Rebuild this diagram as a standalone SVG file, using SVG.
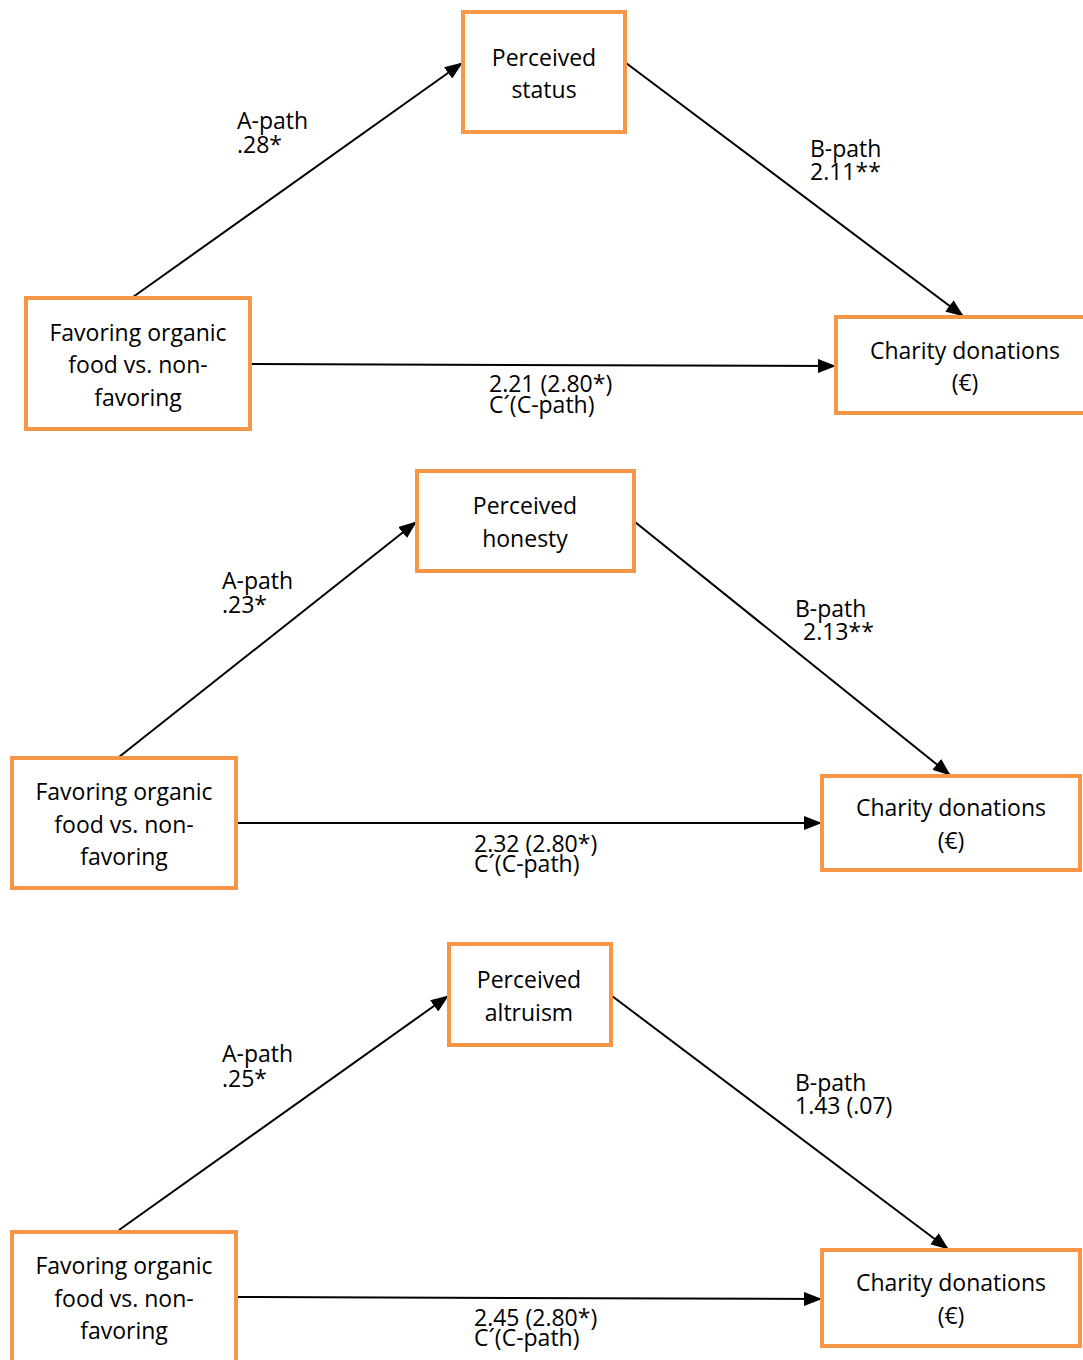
<svg xmlns="http://www.w3.org/2000/svg" width="1083" height="1360" viewBox="0 0 1083 1360">
<style>
.box{fill:#fff;stroke:#F79646;stroke-width:4}
.t{font-family:"Open Sans","Liberation Sans",sans-serif;font-size:23px;fill:#000}
.l{font-size:23px}
.c{text-anchor:middle}
.e{stroke:#000;stroke-width:2;fill:none;marker-end:url(#ah)}
</style>
<defs>
<marker id="ah" markerUnits="userSpaceOnUse" markerWidth="18" markerHeight="14" refX="17" refY="7" orient="auto">
<path d="M0,0 L18,7 L0,14 Z" fill="#000"/>
</marker>
</defs>
<g id="connectors">
<line class="e" x1="133" y1="297" x2="462" y2="63"/>
<line class="e" x1="626" y1="63" x2="963" y2="316"/>
<line class="e" x1="251" y1="364" x2="835" y2="366"/>
<line class="e" x1="119" y1="757" x2="416" y2="522"/>
<line class="e" x1="635" y1="522" x2="950" y2="775"/>
<line class="e" x1="237" y1="823" x2="821" y2="823"/>
<line class="e" x1="119" y1="1230" x2="448" y2="996"/>
<line class="e" x1="612" y1="996" x2="948" y2="1249"/>
<line class="e" x1="237" y1="1297" x2="821" y2="1299"/>
</g>
<g id="labels" class="t l">
<text x="237" y="129">A-path</text><text x="237" y="153">.28*</text>
<text x="810" y="157">B-path</text><text x="810" y="180">2.11**</text>
<text x="489" y="392">2.21 (2.80*)</text><text x="489" y="413">C´(C-path)</text>
<text x="222" y="589">A-path</text><text x="222" y="613">.23*</text>
<text x="795" y="617">B-path</text><text x="803" y="640">2.13**</text>
<text x="474" y="852">2.32 (2.80*)</text><text x="474" y="872">C´(C-path)</text>
<text x="222" y="1062">A-path</text><text x="222" y="1087">.25*</text>
<text x="795" y="1091">B-path</text><text x="795" y="1114">1.43 (.07)</text>
<text x="474" y="1326">2.45 (2.80*)</text><text x="474" y="1346">C´(C-path)</text>
</g>
<g id="status1"><rect class="box" x="463" y="12" width="162" height="120"/>
<text class="t c" x="544" y="66">Perceived</text><text class="t c" x="544" y="98">status</text></g>
<g id="favoring1"><rect class="box" x="26" y="298" width="224" height="131"/>
<text class="t c" x="138" y="341">Favoring organic</text><text class="t c" x="138" y="373">food vs. non-</text><text class="t c" x="138" y="406">favoring</text></g>
<g id="charity1"><rect class="box" x="836" y="317" width="260" height="96"/>
<text class="t c" x="965" y="359">Charity donations</text><text class="t c" x="965" y="391">(€)</text></g>
<g id="honesty2"><rect class="box" x="417" y="471" width="217" height="100"/>
<text class="t c" x="525" y="514">Perceived</text><text class="t c" x="525" y="547">honesty</text></g>
<g id="favoring2"><rect class="box" x="12" y="758" width="224" height="130"/>
<text class="t c" x="124" y="800">Favoring organic</text><text class="t c" x="124" y="833">food vs. non-</text><text class="t c" x="124" y="865">favoring</text></g>
<g id="charity2"><rect class="box" x="822" y="776" width="258" height="94"/>
<text class="t c" x="951" y="816">Charity donations</text><text class="t c" x="951" y="849">(€)</text></g>
<g id="altruism3"><rect class="box" x="449" y="944" width="162" height="101"/>
<text class="t c" x="529" y="988">Perceived</text><text class="t c" x="529" y="1021">altruism</text></g>
<g id="favoring3"><rect class="box" x="12" y="1232" width="224" height="140"/>
<text class="t c" x="124" y="1274">Favoring organic</text><text class="t c" x="124" y="1307">food vs. non-</text><text class="t c" x="124" y="1339">favoring</text></g>
<g id="charity3"><rect class="box" x="822" y="1250" width="258" height="96"/>
<text class="t c" x="951" y="1291">Charity donations</text><text class="t c" x="951" y="1324">(€)</text></g>
</svg>
